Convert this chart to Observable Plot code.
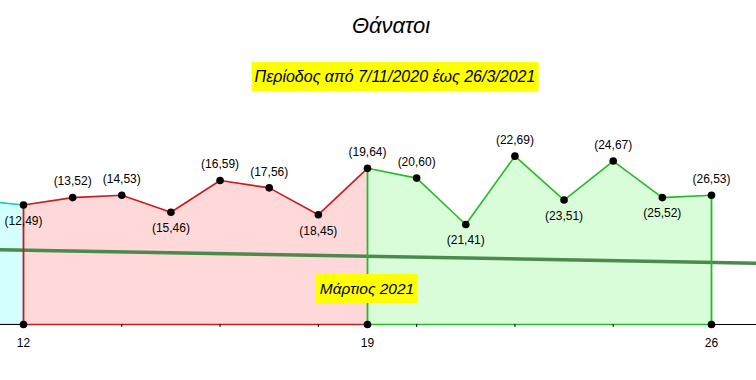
<!DOCTYPE html>
<html><head><meta charset="utf-8">
<script src="https://cdn.jsdelivr.net/npm/d3@7"></script>
<script src="https://cdn.jsdelivr.net/npm/@observablehq/plot@0.6"></script>
<style>
body{margin:0;background:#fff;font-family:"Liberation Sans",Arial,sans-serif;}
#wrap{position:relative;width:756px;height:380px;overflow:hidden;}
#head{position:relative;height:100px;}
.title{position:absolute;left:391px;top:15px;transform:translateX(-50%);font-style:italic;font-size:22px;line-height:22px;white-space:nowrap;color:#000;}
.box{position:absolute;background:#ffff00;font-style:italic;font-size:16px;line-height:29px;height:29px;white-space:nowrap;color:#000;transform:translateX(-50%);padding:0 3px;}
#chart svg{display:block;}
</style>
</head><body>
<div id="wrap">
  <div id="head">
    <div class="title">Θάνατοι</div>
    <div class="box" style="left:395px;top:62px;padding:0 3px;">Περίοδος από 7/11/2020 έως 26/3/2021</div>
  </div>
  <div id="chart"></div>
</div>
<script>
// ---- data ----
const prevDays = [11, 12];
const prevDeaths = [51, 49];
const days = [12, 13, 14, 15, 16, 17, 18, 19, 20, 21, 22, 23, 24, 25, 26];
const deaths = [49, 52, 53, 46, 59, 56, 45, 64, 60, 41, 69, 51, 67, 52, 53];
const labelTicks = [12, 19, 26];
const minorTicks = [14, 16, 18, 20, 22, 24];
const trendDays = [12, 26];
const trendValues = [30.45, 25.45];
const splitDay = 19;
const monthLabel = "Μάρτιος 2021";

// ---- derived ----
const pts = days.map((d, i) => ({d, v: deaths[i]}));
const prev = prevDays.map((d, i) => ({d, v: prevDeaths[i]}));
const red = pts.filter(p => p.d <= splitDay);
const green = pts.filter(p => p.d >= splitDay);
const allVals = [prevDeaths[0], ...deaths];
pts.forEach((p, i) => {
  const a = allVals[i], b = i + 2 < allVals.length ? allVals[i + 2] : Infinity;
  p.below = p.v < a && p.v < b;
  p.label = `(${p.d},${p.v})`;
});
const slope = (trendValues[1] - trendValues[0]) / (trendDays[1] - trendDays[0]);
const trend = [10, 28].map(d => ({d, v: trendValues[0] + slope * (d - trendDays[0])}));
const edges = [pts[0], pts.find(p => p.d === splitDay), pts[pts.length - 1]];

const C = {
  cyanFill: "#d4ffff", cyanLine: "#1ec8c8",
  redFill: "#ffd9d9", redLine: "#cc1c1c",
  greenFill: "#d9fcd9", greenLine: "#26bb26",
  trend: "#4a8a4a"
};

const chart = Plot.plot({
  width: 756,
  height: 280,
  marginLeft: 0, marginRight: 0, marginTop: 0, marginBottom: 56,
  x: {domain: [12, 26], range: [23, 711], label: null},
  y: {domain: [0, 80], range: [224, 28.8], axis: null},
  style: {fontFamily: "'Liberation Sans', Arial, sans-serif", fontSize: "12px", background: "#fff", color: "#000"},
  marks: [
    Plot.areaY(prev, {x: "d", y: "v", fill: C.cyanFill, clip: true}),
    Plot.areaY(red, {x: "d", y: "v", fill: C.redFill}),
    Plot.areaY(green, {x: "d", y: "v", fill: C.greenFill}),
    Plot.ruleY([0], {stroke: "#000", strokeWidth: 1.2}),
    Plot.ruleY([0], {x1: prevDays[0], x2: prevDays[1], stroke: C.cyanLine, strokeWidth: 1.6, clip: true}),
    Plot.ruleY([0], {x1: red[0].d, x2: splitDay, stroke: C.redLine, strokeWidth: 1.6}),
    Plot.ruleY([0], {x1: splitDay, x2: green[green.length - 1].d, stroke: C.greenLine, strokeWidth: 1.6}),
    Plot.lineY(prev, {x: "d", y: "v", stroke: C.cyanLine, strokeWidth: 1.6, clip: true}),
    Plot.lineY(red, {x: "d", y: "v", stroke: C.redLine, strokeWidth: 1.6}),
    Plot.lineY(green, {x: "d", y: "v", stroke: C.greenLine, strokeWidth: 1.6}),
    Plot.lineY(trend, {x: "d", y: "v", stroke: C.trend, strokeWidth: 3.5, clip: true}),
    Plot.ruleX([edges[0]], {x: "d", y1: 0, y2: "v", stroke: "#b81f1f", strokeWidth: 1.8}),
    Plot.ruleX(edges.slice(1), {x: "d", y1: 0, y2: "v", stroke: C.greenLine, strokeWidth: 1.8}),
    Plot.dot(pts, {x: "d", y: "v", r: 3.8, fill: "#000"}),
    Plot.dot(labelTicks, {x: d => d, y: () => 0, r: 3.8, fill: "#000"}),
    Plot.text(pts.filter(p => !p.below), {x: "d", y: "v", text: "label", dy: -16, fontSize: 12, fill: "#000"}),
    Plot.text(pts.filter(p => p.below), {x: "d", y: "v", text: "label", dy: 16, fontSize: 12, fill: "#000"}),
    Plot.axisX({ticks: minorTicks, tickSize: 3, tickFormat: () => "", stroke: "#000", label: null}),
    Plot.axisX({ticks: labelTicks, tickSize: 0, tickPadding: 14, fontSize: 12, fill: "#000", label: null})
  ]
});
document.getElementById("chart").appendChild(chart);

const xs = chart.scale("x");
const m = document.createElement("div");
m.className = "box";
m.style.left = xs.apply(splitDay) + "px";
m.style.top = "274px";
m.style.fontSize = "15.5px";
m.style.padding = "0 4px";
m.textContent = monthLabel;
document.getElementById("wrap").appendChild(m);
</script>
</body></html>
